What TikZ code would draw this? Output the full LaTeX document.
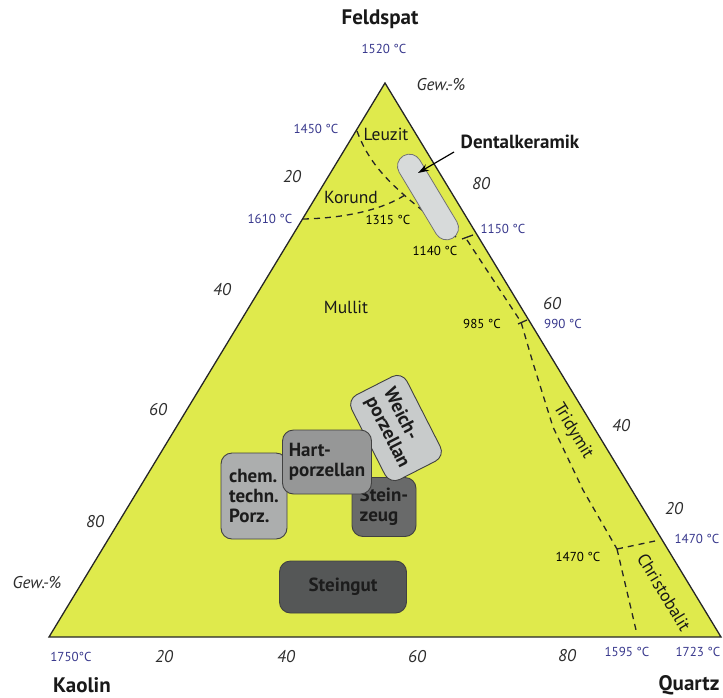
\documentclass[tikz,border=0pt]{standalone}
\usepackage{fontspec}
\setmainfont{PT Sans}
\usetikzlibrary{arrows.meta}
\definecolor{tri}{RGB}{223,234,76}
\definecolor{tblue}{RGB}{55,55,140}
\definecolor{numgray}{RGB}{45,45,45}
\definecolor{dentalfill}{RGB}{215,218,218}
\definecolor{weichfill}{RGB}{200,203,203}
\definecolor{chemfill}{RGB}{172,174,174}
\definecolor{hartfill}{RGB}{150,151,151}
\definecolor{zeugfill}{RGB}{105,106,106}
\definecolor{gutfill}{RGB}{85,87,87}
\definecolor{boxline}{RGB}{65,65,65}
\definecolor{boxtext}{RGB}{28,28,28}
\tikzset{
  temp/.style={text=tblue, font=\fontsize{13}{15}\selectfont, inner sep=0pt},
  itemp/.style={text=black, font=\fontsize{13}{15}\selectfont, inner sep=0pt},
  phase/.style={text=black!90, font=\fontsize{17.5}{20}\selectfont, inner sep=0pt},
  pct/.style={text=numgray, font=\fontsize{17}{19}\selectfont\itshape, inner sep=0pt},
  gew/.style={text=numgray, font=\fontsize{17}{19}\selectfont\itshape, inner sep=0pt},
  corner/.style={text=black!90, font=\fontsize{21}{24}\selectfont\bfseries, inner sep=0pt},
  pbox/.style={draw=boxline, line width=0.9pt, rounded corners=11pt, text=boxtext,
    font=\fontsize{19}{20}\selectfont\bfseries, align=left, inner sep=0pt},
  bnd/.style={dash pattern=on 6pt off 5pt, line width=1.3pt, draw=black!85},
  tick/.style={line width=1.3pt, draw=black!85}
}
\begin{document}
\begin{tikzpicture}[x=1pt,y=-1pt]
\useasboundingbox (0,0) rectangle (723,697);
% triangle
\coordinate (F) at (385,83);
\coordinate (K) at (49,637);
\coordinate (Q) at (721,637);
\draw[fill=tri, line width=1.3pt, draw=black!85] (F) -- (K) -- (Q) -- cycle;

% phase boundaries
\coordinate (l1) at (357,131);
\coordinate (l2) at (456,237);
\draw[bnd] (l1) .. controls (372,172) and (400,193) .. (l2);
\coordinate (k1) at (303,219);
\coordinate (k2) at (405,195);
\draw[bnd] (k1) .. controls (350,218) and (385,208) .. (k2);
\coordinate (t1) at (467,240);
\coordinate (t2) at (521,322);
\coordinate (t3) at (617,549);
\draw[bnd] (t1) -- (t2) -- (533,363) -- (553,427) -- (583,490) -- (t3);
\coordinate (c1) at (655,541);
\coordinate (c2) at (636,630);
\draw[bnd] (t3) -- (c1);
\draw[bnd] (t3) -- (c2);
\coordinate (tk1a) at (462,239);
\coordinate (tk1b) at (473,235);
\draw[tick] (tk1a) -- (tk1b);
\coordinate (tk2a) at (518,324);
\coordinate (tk2b) at (527,320);
\draw[tick] (tk2a) -- (tk2b);

% Dentalkeramik capsule
\node[draw=black!55, line width=0.8pt, fill=dentalfill, minimum width=96pt, minimum height=24pt,
  rounded corners=12pt, rotate=-59, inner sep=0pt] (dental) at (428,197) {};

% product boxes
\node[pbox, fill=zeugfill, minimum width=64pt, minimum height=59pt] (zeug) at (384,507) {Stein-\\zeug};
\node[pbox, fill=weichfill, minimum width=95pt, minimum height=62pt, rotate=-63] (weich) at (396,428) {Weich-\\porzellan};
\node[pbox, fill=chemfill, minimum width=66pt, minimum height=86pt] (chem) at (254,496) {chem.\\techn.\\Porz.};
\node[pbox, fill=hartfill, minimum width=89pt, minimum height=64pt] (hart) at (327,462) {Hart-\\porzellan};
\node[pbox, fill=gutfill, minimum width=127pt, minimum height=52pt] (gut) at (343,587) {Steingut};

% corner labels
\node[corner] (nF) at (380,19) {Feldspat};
\node[corner] (nK) at (82,685) {Kaolin};
\node[corner] (nQ) at (689,685) {Quartz};

% Dentalkeramik label + arrow
\node[corner, font=\fontsize{19}{22}\selectfont\bfseries] (dk) at (520,142) {Dentalkeramik};
\coordinate (arrS) at (454,152);
\coordinate (arrT) at (418,173);
\draw[-{Stealth[length=11pt,width=7pt]}, line width=1.2pt] (arrS) -- (arrT);

% Gew.-%
\node[gew] (g1) at (441,85) {Gew.-\%};
\node[gew] (g2) at (37,583) {Gew.-\%};

% edge temperatures (blue)
\node[temp] (T1520) at (384,49) {1520 °C};
\node[temp] (T1450) at (316,129) {1450 °C};
\node[temp] (T1610) at (270,219) {1610 °C};
\node[temp] (T1150) at (503,229) {1150 °C};
\node[temp] (T990) at (563,324) {990 °C};
\node[temp] (T1470r) at (697,539) {1470 °C};
\node[temp] (T1750) at (71,657) {1750°C};
\node[temp] (T1595) at (627,652) {1595 °C};
\node[temp] (T1723) at (698,652) {1723 °C};

% inner temperatures
\node[itemp] (T1315) at (388,220) {1315 °C};
\node[itemp] (T1140) at (435,251) {1140 °C};
\node[itemp] (T985) at (482,324) {985 °C};
\node[itemp] (T1470i) at (578,557) {1470 °C};

% phase names
\node[phase] (leuzit) at (386,134) {Leuzit};
\node[phase] (korund) at (351,197) {Korund};
\node[phase] (mullit) at (346,307) {Mullit};
\node[phase, rotate=-58.8] (tridymit) at (573,431) {Tridymit};
\node[phase, rotate=-58.8] (christo) at (664,592) {Christobalit};

% percentage scales
\node[pct] (pl20) at (292,177) {20};
\node[pct] (pl40) at (222,290) {40};
\node[pct] (pl60) at (158,410) {60};
\node[pct] (pl80) at (95,522) {80};
\node[pct] (pr80) at (481,184) {80};
\node[pct] (pr60) at (552,304) {60};
\node[pct] (pr40) at (621,426) {40};
\node[pct] (pr20) at (674,509) {20};
\node[pct] (pb20) at (164,657) {20};
\node[pct] (pb40) at (286,657) {40};
\node[pct] (pb60) at (417,657) {60};
\node[pct] (pb80) at (567,656) {80};
\end{tikzpicture}
\end{document}
